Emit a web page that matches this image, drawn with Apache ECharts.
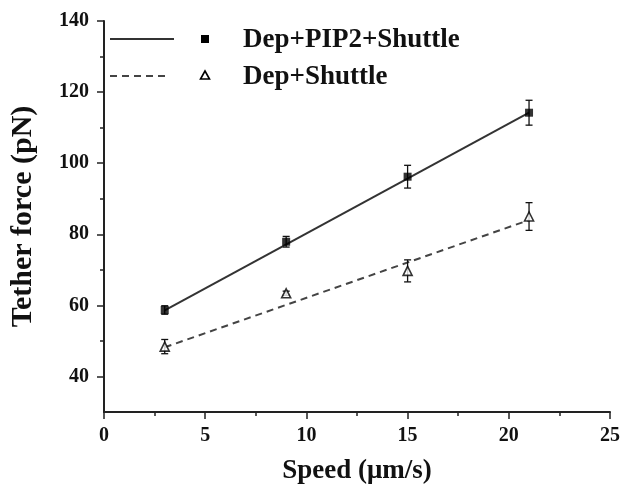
<!DOCTYPE html>
<html>
<head>
<meta charset="utf-8">
<script src="https://cdn.jsdelivr.net/npm/echarts@6/dist/echarts.min.js"></script>
<style>html,body{margin:0;padding:0;background:#fff;}#c{width:630px;height:494px;}</style>
</head>
<body>
<div id="c"></div>
<script>
// ---- data ----
const speeds = [3, 9, 15, 21];
const pip2Force = [58.7, 77.9, 96.2, 114.2];
const pip2Err = [1.2, 1.5, 3.2, 3.5];
const shuttleForce = [48.4, 63.4, 69.7, 85.0];
const shuttleErr = [2.0, 0.6, 3.1, 3.9];
const fitX = [3, 21];
const pip2Fit = [58.6, 114.2];
const shuttleFit = [48.2, 84.0];
const yMajor = [40, 60, 80, 100, 120, 140];
const yMinor = [50, 70, 90, 110, 130];
const xMajor = [0, 5, 10, 15, 20, 25];
const xMinor = [2.5, 7.5, 12.5, 17.5, 22.5];
const names = ['Dep+PIP2+Shuttle', 'Dep+Shuttle'];

const FONT = '"Liberation Serif","Times New Roman",serif';
const axisColor = '#222';

function pts(xs, ys) { return xs.map((x, i) => [x, ys[i]]); }
function errData(xs, ys, es) { return xs.map((x, i) => [x, ys[i] - es[i], ys[i] + es[i]]); }

function errRender(params, api) {
  const x = api.value(0);
  const lo = api.coord([x, api.value(1)]);
  const hi = api.coord([x, api.value(2)]);
  const w = 3.5;
  const st = { stroke: '#111', lineWidth: 1.3 };
  return {
    type: 'group',
    children: [
      { type: 'line', shape: { x1: lo[0], y1: lo[1], x2: hi[0], y2: hi[1] }, style: st },
      { type: 'line', shape: { x1: lo[0] - w, y1: lo[1], x2: lo[0] + w, y2: lo[1] }, style: st },
      { type: 'line', shape: { x1: hi[0] - w, y1: hi[1], x2: hi[0] + w, y2: hi[1] }, style: st }
    ]
  };
}

const chart = echarts.init(document.getElementById('c'), null, { renderer: 'canvas' });
const baseX = {
  type: 'value', min: 0, max: 25, splitLine: { show: false }
};
const baseY = {
  type: 'value', min: 30, max: 140, splitLine: { show: false }
};
chart.setOption({
  animation: false,
  backgroundColor: '#fff',
  grid: { left: 99, right: 20, top: 21, bottom: 82, containLabel: false },
  xAxis: [
    Object.assign({}, baseX, {
      axisLine: { show: true, lineStyle: { color: axisColor, width: 2 } },
      axisTick: { show: true, customValues: xMajor, length: 7, lineStyle: { color: axisColor, width: 1.5 } },
      axisLabel: { customValues: xMajor, margin: 14, color: '#111', fontFamily: FONT, fontWeight: 'bold', fontSize: 20 },
      name: 'Speed (μm/s)', nameLocation: 'middle', nameGap: 46,
      nameTextStyle: { color: '#111', fontFamily: FONT, fontWeight: 'bold', fontSize: 27 }
    }),
    Object.assign({}, baseX, {
      axisLine: { show: false },
      axisTick: { show: true, customValues: xMinor, length: 4, lineStyle: { color: axisColor, width: 1.5 } },
      axisLabel: { show: false }, position: 'bottom'
    })
  ],
  yAxis: [
    Object.assign({}, baseY, {
      axisLine: { show: true, lineStyle: { color: axisColor, width: 2 } },
      axisTick: { show: true, customValues: yMajor, length: 7, lineStyle: { color: axisColor, width: 1.5 } },
      axisLabel: { customValues: yMajor, margin: 15, color: '#111', fontFamily: FONT, fontWeight: 'bold', fontSize: 20 },
      name: 'Tether force (pN)', nameLocation: 'middle', nameGap: 66,
      nameTextStyle: { color: '#111', fontFamily: FONT, fontWeight: 'bold', fontSize: 30 }
    }),
    Object.assign({}, baseY, {
      axisLine: { show: false },
      axisTick: { show: true, customValues: yMinor, length: 4, lineStyle: { color: axisColor, width: 1.5 } },
      axisLabel: { show: false }, position: 'left'
    })
  ],
  series: [
    { type: 'line', name: names[0] + ' fit', data: pts(fitX, pip2Fit), showSymbol: false, symbol: 'none',
      lineStyle: { color: '#333', width: 2, type: 'solid' }, z: 2 },
    { type: 'line', name: names[1] + ' fit', data: pts(fitX, shuttleFit), showSymbol: false, symbol: 'none',
      lineStyle: { color: '#444', width: 2, type: [7, 5] }, z: 2 },
    { type: 'custom', name: names[0] + ' err', data: errData(speeds, pip2Force, pip2Err), renderItem: errRender, z: 3 },
    { type: 'custom', name: names[1] + ' err', data: errData(speeds, shuttleForce, shuttleErr), renderItem: errRender, z: 3 },
    { type: 'scatter', name: names[0], data: pts(speeds, pip2Force), symbol: 'rect', symbolSize: 8,
      itemStyle: { color: '#000' }, z: 4 },
    { type: 'scatter', name: names[1], data: pts(speeds, shuttleForce), symbol: 'triangle', symbolSize: 9,
      itemStyle: { color: '#fff', borderColor: '#000', borderWidth: 1.6 }, z: 4 }
  ],
  graphic: [
    { type: 'line', shape: { x1: 110, y1: 39, x2: 174, y2: 39 }, style: { stroke: '#333', lineWidth: 2 } },
    { type: 'rect', shape: { x: 201, y: 35, width: 8, height: 8 }, style: { fill: '#000' } },
    { type: 'text', left: 243, top: 27, style: { text: names[0], font: 'bold 27px ' + FONT, fill: '#111' } },
    { type: 'line', shape: { x1: 110, y1: 76, x2: 170, y2: 76 }, style: { stroke: '#444', lineWidth: 2, lineDash: [7, 5] } },
    { type: 'polygon', shape: { points: [[205, 71], [209.5, 79], [200.5, 79]] }, style: { fill: '#fff', stroke: '#000', lineWidth: 1.6 } },
    { type: 'text', left: 243, top: 64, style: { text: names[1], font: 'bold 27px ' + FONT, fill: '#111' } }
  ]
});
</script>
</body>
</html>
